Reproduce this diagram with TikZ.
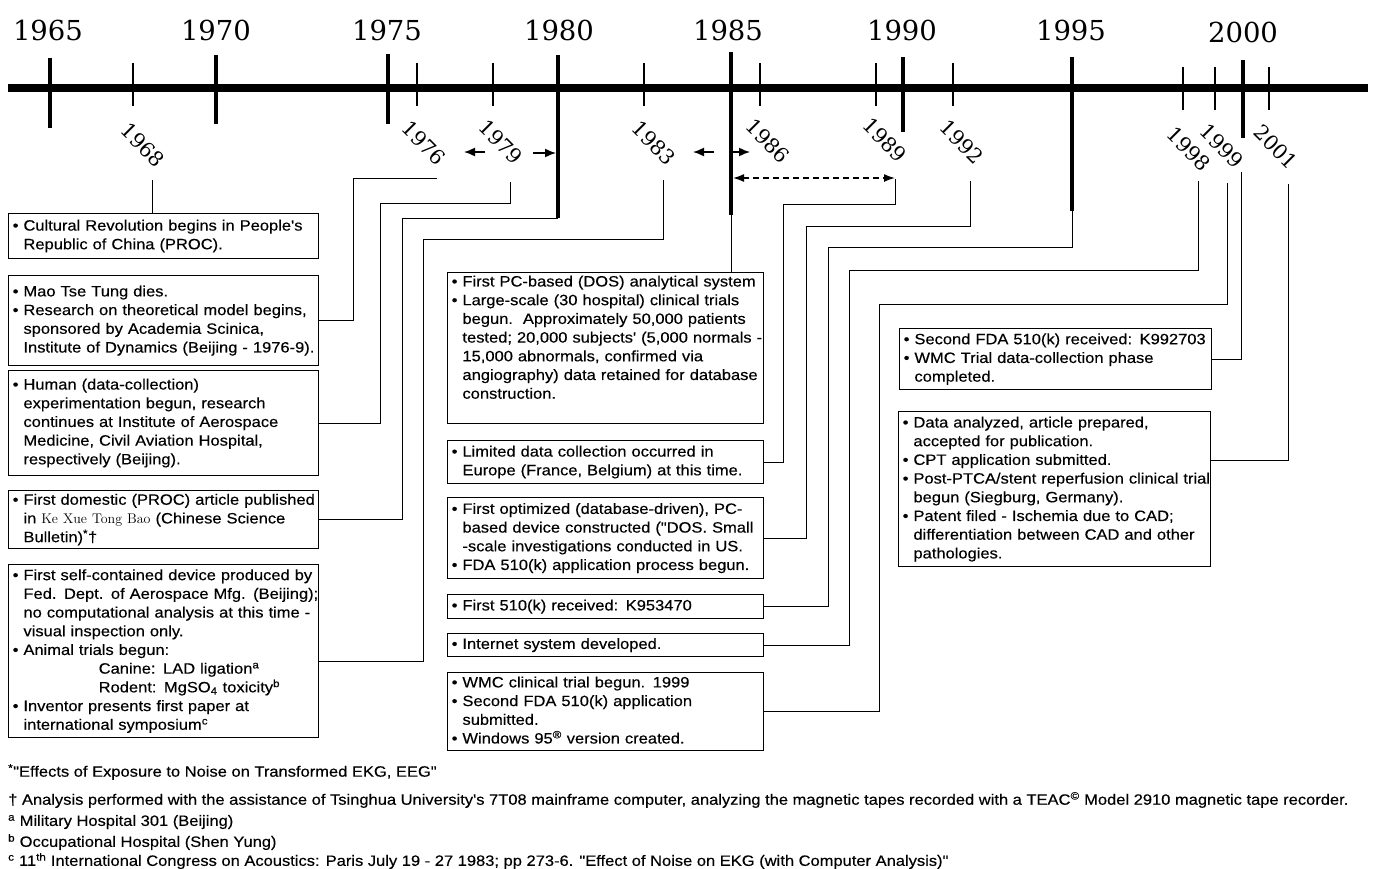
\documentclass[tikz,border=0pt]{standalone}
\usepackage{fontspec}
\newfontfamily\sansbox[FakeStretch=1.1,FakeBold=0.3]{Liberation Sans}
\newfontfamily\yearfont{DejaVu Serif}
\usetikzlibrary{arrows.meta}
\newcommand\bx[1]{\begin{tabular}{@{}l@{}}#1\end{tabular}}
\newcommand\bind{\hphantom{•\ }}
\begin{document}
\begin{tikzpicture}[x=1pt,y=-1pt,
  box/.style={draw, line width=1.4pt, anchor=north west, align=left, inner xsep=4pt, inner ysep=0pt, font=\sansbox\fontsize{15}{18.7}\selectfont},
  lbox/.style={box, text width=302pt},
  mbox/.style={box, text width=308pt},
  rbox/.style={box, text width=304pt},
  conn/.style={line width=1pt},
  major/.style={line width=4pt},
  minor/.style={line width=2.5pt},
  yr/.style={font=\yearfont\fontsize{27.5}{28}\selectfont, inner sep=0pt},
  ryr/.style={font=\yearfont\fontsize{20.5}{21}\selectfont, rotate=-45, inner sep=0pt},
  foot/.style={anchor=west, inner sep=0pt, font=\sansbox\fontsize{15}{16}\selectfont},
  head/.style={-{Latex[length=11pt,width=9pt]}, line width=1.5pt}
]
\useasboundingbox (0,0) rectangle (1374,868);
\fill[white] (0,0) rectangle (1374,868);

% timeline
\draw[line width=8pt] (8,88) -- (1368,88);

% major ticks
\draw[major] (50,58) -- (50,128);
\draw[major] (216,55) -- (216,124);
\draw[major] (388,54) -- (388,124);
\draw[major] (558,55) -- (558,218);
\draw[major] (731,52) -- (731,215);
\draw[major] (903,57) -- (903,132);
\draw[major] (1072,57) -- (1072,211);
\draw[major] (1243,60) -- (1243,138);

% minor ticks
\foreach \x in {133,417,493,644,760,876,953} \draw[minor] (\x,63) -- (\x,106);
\foreach \x in {1183,1215,1269} \draw[minor] (\x,67) -- (\x,110);

% year labels
\node[yr] (y1965) at (48,30) {1965};
\node[yr] (y1970) at (216,30) {1970};
\node[yr] (y1975) at (387,30) {1975};
\node[yr] (y1980) at (559,30) {1980};
\node[yr] (y1985) at (728,30) {1985};
\node[yr] (y1990) at (902,30) {1990};
\node[yr] (y1995) at (1071,30) {1995};
\node[yr] (y2000) at (1243,32) {2000};

% rotated labels
\node[ryr] (r1968) at (143,145) {1968};
\node[ryr] (r1976) at (424,143) {1976};
\node[ryr] (r1979) at (501,142) {1979};
\node[ryr] (r1983) at (654,143) {1983};
\node[ryr] (r1986) at (768,141) {1986};
\node[ryr] (r1989) at (885,140) {1989};
\node[ryr] (r1992) at (962,142) {1992};
\node[ryr] (r1998) at (1189,149) {1998};
\node[ryr] (r1999) at (1222,146) {1999};
\node[ryr] (r2001) at (1276,147) {2001};

% range arrows
\coordinate (a1) at (485,152); \coordinate (a1e) at (464,152);
\coordinate (a2) at (533,153); \coordinate (a2e) at (556,153);
\coordinate (a3) at (714,152); \coordinate (a3e) at (693,152);
\coordinate (a4) at (733,152); \coordinate (a4e) at (750,152);
\draw[head] (a1) -- (a1e);
\draw[head] (a2) -- (a2e);
\draw[head] (a3) -- (a3e);
\draw[head] (a4) -- (a4e);
\coordinate (d1) at (733,178); \coordinate (d2) at (895,178);
\draw[line width=1.5pt, dash pattern=on 6pt off 4pt, {Latex[length=11pt,width=8pt]}-{Latex[length=11pt,width=8pt]}] (d1) -- (d2);

% left boxes
\node[lbox, minimum height=45pt] (A) at (8,213) {\bx{• Cultural Revolution begins in People's\\ \bind Republic of China (PROC).}};
\node[lbox, minimum height=90pt] (B) at (8,275) {\bx{• Mao Tse Tung dies.\\ • Research on theoretical model begins,\\ \bind sponsored by Academia Scinica,\\ \bind Institute of Dynamics (Beijing - 1976-9).}};
\node[lbox, minimum height=105pt] (C) at (8,370) {\bx{• Human (data-collection)\\ \bind experimentation begun, research\\ \bind continues at Institute of Aerospace\\ \bind Medicine, Civil Aviation Hospital,\\ \bind respectively (Beijing).}};
\node[lbox, minimum height=58pt] (D) at (8,490) {\bx{• First domestic (PROC) article published\\ \bind in {\rmfamily\fontsize{14}{14}\selectfont Ke Xue Tong Bao} (Chinese Science\\ \bind Bulletin)\textsuperscript{*}†}};
\node[lbox, minimum height=173pt] (E) at (8,564) {\bx{• First self-contained device produced by\\ \bind Fed. Dept. of Aerospace Mfg. (Beijing);\\ \bind no computational analysis at this time -\\ \bind visual inspection only.\\ • Animal trials begun:\\ \hspace*{86pt}Canine: LAD ligation\textsuperscript{a}\\ \hspace*{86pt}Rodent: MgSO\textsubscript{4} toxicity\textsuperscript{b}\\ • Inventor presents first paper at\\ \bind international symposium\textsuperscript{c}}};

% middle boxes
\node[mbox, minimum height=151pt] (F) at (447,272) {\bx{• First PC-based (DOS) analytical system\\ • Large-scale (30 hospital) clinical trials\\ \bind begun.\ \ Approximately 50,000 patients\\ \bind tested; 20,000 subjects' (5,000 normals -\\ \bind 15,000 abnormals, confirmed via\\ \bind angiography) data retained for database\\ \bind construction.\\ ~}};
\node[mbox, minimum height=43pt] (G) at (447,440) {\bx{• Limited data collection occurred in\\ \bind Europe (France, Belgium) at this time.}};
\node[mbox, minimum height=81pt] (H) at (447,497) {\bx{• First optimized (database-driven), PC-\\ \bind based device constructed ("DOS. Small\\ \bind -scale investigations conducted in US.\\ • FDA 510(k) application process begun.}};
\node[mbox, minimum height=24pt] (I) at (447,594) {\bx{• First 510(k) received: K953470}};
\node[mbox, minimum height=23pt] (J) at (447,633) {\bx{• Internet system developed.}};
\node[mbox, minimum height=78pt] (K) at (447,672) {\bx{• WMC clinical trial begun. 1999\\ • Second FDA 510(k) application\\ \bind submitted.\\ • Windows 95\textsuperscript{®} version created.}};

% right boxes
\node[rbox, minimum height=61pt] (L) at (899,328) {\bx{• Second FDA 510(k) received: K992703\\ • WMC Trial data-collection phase\\ \bind completed.}};
\node[rbox, minimum height=155pt] (M) at (898,411) {\bx{• Data analyzed, article prepared,\\ \bind accepted for publication.\\ • CPT application submitted.\\ • Post-PTCA/stent reperfusion clinical trial\\ \bind begun (Siegburg, Germany).\\ • Patent filed - Ischemia due to CAD;\\ \bind differentiation between CAD and other\\ \bind pathologies.}};

% connectors
\coordinate (k68) at (152,180);
\draw[conn] (k68) -- (k68 |- A.north);
\coordinate (k76) at (437,178);
\draw[conn] (k76) -- (353,178) |- (B.east);
\coordinate (k79) at (510,182);
\draw[conn] (k79) |- (380,203) |- (C.east);
\coordinate (k80) at (558,218);
\draw[conn] (k80) -- (402,218) |- (D.east);
\coordinate (k83) at (663,180);
\draw[conn] (k83) |- (423,239) |- ([yshift=-10pt]E.east);
\coordinate (k85) at (731,215);
\draw[conn] (k85) -- (k85 |- F.north);
\coordinate (k89) at (895,179);
\draw[conn] (k89) |- (783,204) |- (G.east);
\coordinate (k92) at (970,181);
\draw[conn] (k92) |- (806,226) |- (H.east);
\coordinate (k95) at (1072,211);
\draw[conn] (k95) |- (828,247) |- (I.east);
\coordinate (k98) at (1198,181);
\draw[conn] (k98) |- (849,270) |- (J.east);
\coordinate (k99) at (1227,183);
\draw[conn] (k99) |- (879,304) |- (K.east);
\coordinate (k00) at (1241,172);
\draw[conn] (k00) |- (L.east);
\coordinate (k01) at (1288,184);
\draw[conn] (k01) |- ([yshift=29pt]M.east);

% footnotes
\node[foot] (f1) at (8,772) {\textsuperscript{*}"Effects of Exposure to Noise on Transformed EKG, EEG"};
\node[foot] (f2) at (8,800) {† Analysis performed with the assistance of Tsinghua University's 7T08 mainframe computer, analyzing the magnetic tapes recorded with a TEAC\textsuperscript{©} Model 2910 magnetic tape recorder.};
\node[foot] (f3) at (8,822) {\textsuperscript{a} Military Hospital 301 (Beijing)};
\node[foot] (f4) at (8,842) {\textsuperscript{b} Occupational Hospital (Shen Yung)};
\node[foot] (f5) at (8,861) {\textsuperscript{c} 11\textsuperscript{th} International Congress on Acoustics: Paris July 19 - 27 1983; pp 273-6. "Effect of Noise on EKG (with Computer Analysis)"};
\end{tikzpicture}
\end{document}
